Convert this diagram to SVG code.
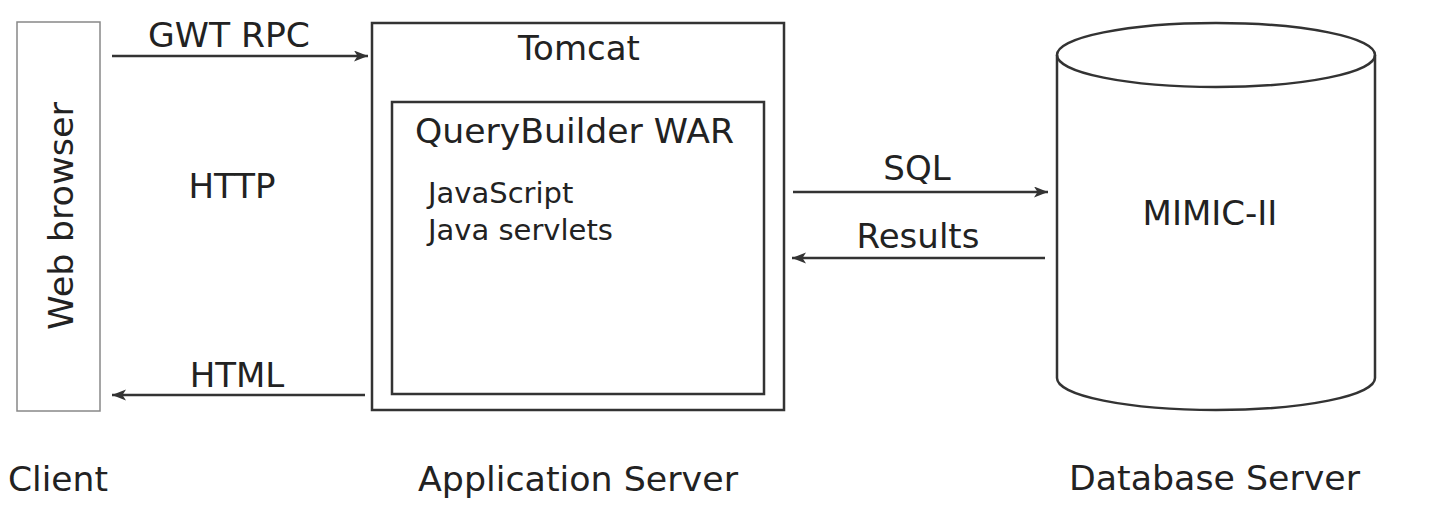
<svg xmlns="http://www.w3.org/2000/svg" width="1430" height="512" viewBox="0 0 1430 512">
  <style>
    text { font-family: "DejaVu Sans", "Verdana", sans-serif; fill: #222; font-size: 34px; }
    .small { font-size: 29px; }
    .mid { text-anchor: middle; }
    .box { fill: none; stroke: #333; stroke-width: 2.5; }
    .thin { fill: none; stroke: #888; stroke-width: 1.5; }
    .conn { fill: none; stroke: #333; stroke-width: 2.5; }
  </style>
  <defs>
    <marker id="arrow" markerUnits="userSpaceOnUse" markerWidth="15" markerHeight="12" refX="14" refY="5.5" orient="auto">
      <path d="M0,0 L14,5.5 L0,11 L3.5,5.5 z" fill="#333"/>
    </marker>
  </defs>
  <rect width="1430" height="512" fill="#fff"/>

  <g id="client">
    <rect class="thin" x="17" y="22" width="83" height="389"/>
    <text class="mid" transform="translate(73,216) rotate(-90)" textLength="228" lengthAdjust="spacingAndGlyphs">Web browser</text>
    <text x="8" y="491" textLength="100" lengthAdjust="spacingAndGlyphs">Client</text>
  </g>

  <g id="tomcat">
    <rect class="box" x="372" y="23" width="412" height="387"/>
    <text class="mid" x="579" y="60">Tomcat</text>
    <text class="mid" x="578" y="491" textLength="320" lengthAdjust="spacingAndGlyphs">Application Server</text>
  </g>

  <g id="querybuilder">
    <rect class="box" x="392" y="102" width="372" height="292" stroke="#444"/>
    <text class="mid" x="574.5" y="143" textLength="319" lengthAdjust="spacingAndGlyphs">QueryBuilder WAR</text>
    <text class="small" x="428" y="203">JavaScript</text>
    <text class="small" x="428" y="240">Java servlets</text>
  </g>

  <g id="database">
    <path class="box" d="M1057,55 L1057,378 A159,32 0 0 0 1375,378 L1375,55" fill="#fff"/>
    <ellipse class="box" cx="1216" cy="55" rx="159" ry="32"/>
    <text class="mid" x="1210" y="225">MIMIC-II</text>
    <text class="mid" x="1214.5" y="490" textLength="291" lengthAdjust="spacingAndGlyphs">Database Server</text>
  </g>

  <g id="connectors">
    <line class="conn" x1="112" y1="56" x2="368" y2="56" marker-end="url(#arrow)"/>
    <text class="mid" x="229" y="47" textLength="162" lengthAdjust="spacingAndGlyphs">GWT RPC</text>
    <text class="mid" x="232" y="198">HTTP</text>
    <line class="conn" x1="365" y1="395" x2="112" y2="395" marker-end="url(#arrow)"/>
    <text class="mid" x="237" y="387">HTML</text>
    <line class="conn" x1="793" y1="192" x2="1048" y2="192" marker-end="url(#arrow)"/>
    <text class="mid" x="917" y="180">SQL</text>
    <line class="conn" x1="1045" y1="258" x2="792" y2="258" marker-end="url(#arrow)"/>
    <text class="mid" x="918" y="248">Results</text>
  </g>
</svg>
